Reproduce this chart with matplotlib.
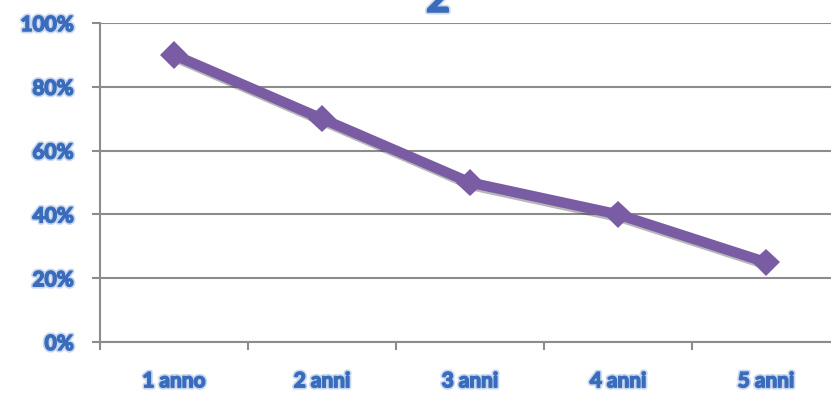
import numpy as np
import matplotlib.pyplot as plt
import matplotlib.patheffects as pe

categories = ["1 anno", "2 anni", "3 anni", "4 anni", "5 anni"]
values = [90, 70, 50, 40, 25]
yticks = [0, 20, 40, 60, 80, 100]
title = "2"

blue = "#3a6cbc"
purple = "#7a5ca5"
grid = "#8c8c8c"
# light halo plus a thin same-colour stroke to fatten the glyphs
glow = [pe.withStroke(linewidth=3.5, foreground="#c9d8f0"),
        pe.withStroke(linewidth=1.1, foreground=blue)]

fig = plt.figure(figsize=(8.31, 3.95), dpi=100)
# axes runs past the right edge so the last tick is cut off
ax = fig.add_axes([100 / 831, 53 / 395, 740 / 831, 319 / 395])

x = np.arange(len(categories))
ax.plot(x, values, color=purple, lw=7.5, solid_capstyle="butt", zorder=3,
        marker="D", markersize=14, markeredgewidth=0,
        path_effects=[pe.SimpleLineShadow(offset=(1.5, -2), alpha=0.35, shadow_color="#333333"),
                      pe.Normal()])

ax.set_xlim(-0.5, len(categories) - 0.5)
ax.set_ylim(0, 100)
ax.set_yticks(yticks)
ax.set_yticklabels([f"{v}%" for v in yticks])
ax.set_xticks(np.arange(len(categories) + 1) - 0.5)
ax.set_xticklabels([])
ax.set_xticks(x, minor=True)
ax.set_xticklabels(categories, minor=True)

ax.grid(axis="y", color=grid, lw=1.5)
ax.set_axisbelow(True)
for s in ["top", "right"]:
    ax.spines[s].set_visible(False)
for s in ["left", "bottom"]:
    ax.spines[s].set_color(grid)
    ax.spines[s].set_linewidth(1.5)

ax.tick_params(axis="y", which="major", length=6, width=1.5, color=grid, pad=13)
ax.tick_params(axis="x", which="major", length=6, width=1.5, color=grid)
ax.tick_params(axis="x", which="minor", length=0, pad=21)

for lab in ax.get_yticklabels() + ax.get_xticklabels(minor=True):
    lab.set_fontfamily("Lato")
    lab.set_fontweight("bold")
    lab.set_fontsize(15)
    lab.set_color(blue)
    lab.set_path_effects(glow)

fig.text(438 / 831, 1.0, title, ha="center", va="center", fontsize=30,
         fontfamily="Lato", fontweight="bold", color=blue, path_effects=glow)

fig.savefig("out.png", dpi=100)
